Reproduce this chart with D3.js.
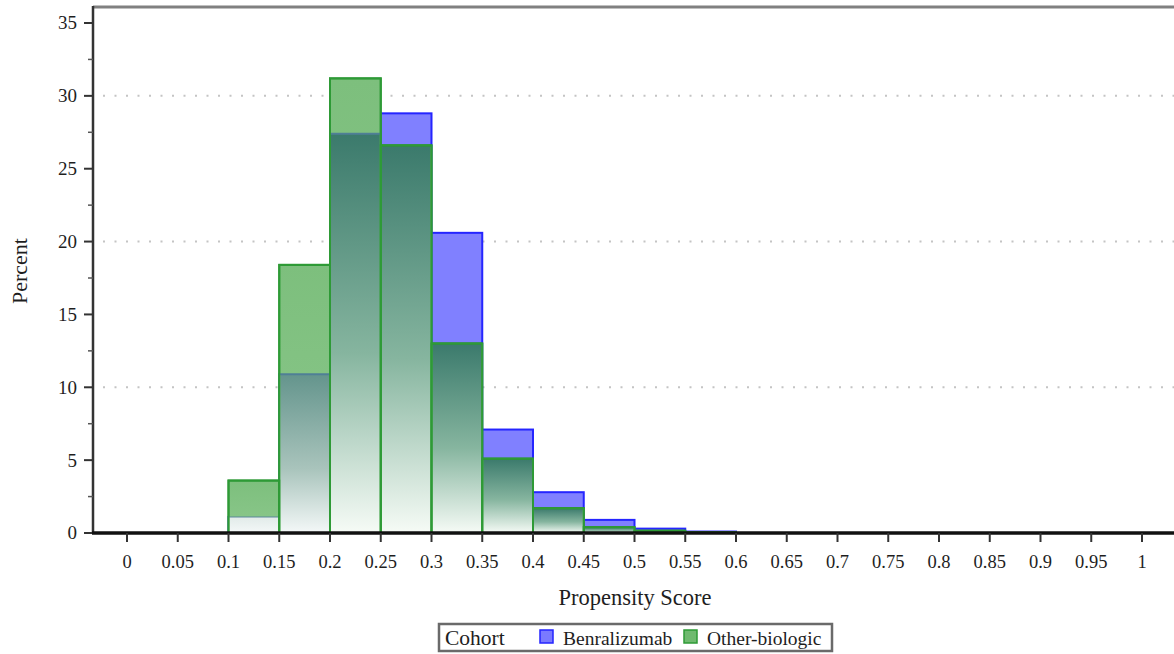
<!DOCTYPE html>
<html>
<head>
<meta charset="utf-8">
<script src="https://cdn.jsdelivr.net/npm/d3@7"></script>
<style>
  html, body { margin: 0; padding: 0; background: #fff; }
  svg { display: block; }
  text { font-family: "Liberation Serif", "Times New Roman", serif; fill: #1e1e1e; }
</style>
</head>
<body>
<svg id="chart" width="1174" height="654"></svg>
<script>
// Histogram bins (left edges), width 0.05
const binStarts = [0.10, 0.15, 0.20, 0.25, 0.30, 0.35, 0.40, 0.45, 0.50, 0.55];
const binWidth = 0.05;
// Percent of each cohort falling in each bin
const benralizumab = [1.1, 10.9, 27.4, 28.8, 20.6, 7.1, 2.8, 0.9, 0.3, 0.1];
const otherBiologic = [3.6, 18.4, 31.2, 26.6, 13.0, 5.1, 1.7, 0.4, 0.15, 0.05];
const xTicks = [0, 0.05, 0.1, 0.15, 0.2, 0.25, 0.3, 0.35, 0.4, 0.45, 0.5, 0.55, 0.6, 0.65, 0.7, 0.75, 0.8, 0.85, 0.9, 0.95, 1];
const yTicks = [0, 5, 10, 15, 20, 25, 30, 35];
const yMinorTicks = [2.5, 7.5, 12.5, 17.5, 22.5, 27.5, 32.5];
const gridValues = [10, 20, 30];
const cohorts = ["Benralizumab", "Other-biologic"];

const svg = d3.select("#chart");
const plotLeft = 93, plotTop = 7, plotBottom = 533, plotRight = 1200;

const x = d3.scaleLinear().domain([0, 1]).range([127, 1142]);
const y = d3.scaleLinear().domain([0, 35]).range([533, 23]);

const defs = svg.append("defs");
// Dense overlap shading
const gradG = defs.append("linearGradient")
  .attr("id", "overlapDense").attr("x1", 0).attr("y1", 0).attr("x2", 0).attr("y2", 1);
gradG.append("stop").attr("offset", "0%").attr("stop-color", "#3b7a6c");
gradG.append("stop").attr("offset", "55%").attr("stop-color", "#86b59f");
gradG.append("stop").attr("offset", "100%").attr("stop-color", "#f6fbf6");
// Light overlap shading where Benralizumab is well below Other-biologic
const gradB = defs.append("linearGradient")
  .attr("id", "overlapLight").attr("gradientUnits", "userSpaceOnUse")
  .attr("x1", 0).attr("y1", y(11)).attr("x2", 0).attr("y2", y(0));
gradB.append("stop").attr("offset", "0%").attr("stop-color", "#63948c");
gradB.append("stop").attr("offset", "60%").attr("stop-color", "#a9c4bc");
gradB.append("stop").attr("offset", "100%").attr("stop-color", "#f4f8f8");
// Green-only part
const gradTop = defs.append("linearGradient")
  .attr("id", "greenTop").attr("x1", 0).attr("y1", 0).attr("x2", 0).attr("y2", 1);
gradTop.append("stop").attr("offset", "0%").attr("stop-color", "#7dbf7d");
gradTop.append("stop").attr("offset", "100%").attr("stop-color", "#8cc88c");

defs.append("clipPath").attr("id", "plotClip")
  .append("rect").attr("x", plotLeft).attr("y", plotTop)
  .attr("width", plotRight - plotLeft).attr("height", plotBottom - plotTop);

// Dotted reference lines
svg.append("g").selectAll("line").data(gridValues).join("line")
  .attr("x1", plotLeft + 10).attr("x2", plotRight)
  .attr("y1", d => y(d)).attr("y2", d => y(d))
  .attr("stroke", "#c4c4c4").attr("stroke-width", 2)
  .attr("stroke-dasharray", "2,9.5");

const bins = binStarts.map((s, i) => ({
  x0: s, x1: s + binWidth, b: benralizumab[i], g: otherBiologic[i],
  lo: Math.min(benralizumab[i], otherBiologic[i]),
  light: benralizumab[i] / otherBiologic[i] < 0.75
}));

const bars = svg.append("g").attr("clip-path", "url(#plotClip)");

// Benralizumab bars
bars.append("g").selectAll("rect").data(bins).join("rect")
  .attr("x", d => x(d.x0)).attr("width", d => x(d.x1) - x(d.x0))
  .attr("y", d => y(d.b)).attr("height", d => y(0) - y(d.b))
  .attr("fill", "#8080ff").attr("stroke", "#2525ff").attr("stroke-width", 2);

// Other-biologic bars
bars.append("g").selectAll("rect").data(bins).join("rect")
  .attr("x", d => x(d.x0)).attr("width", d => x(d.x1) - x(d.x0))
  .attr("y", d => y(d.g)).attr("height", d => y(0) - y(d.g))
  .attr("fill", "url(#greenTop)").attr("stroke", "#2e9a36").attr("stroke-width", 2);

// Overlapping portion of both cohorts
bars.append("g").selectAll("rect").data(bins).join("rect")
  .attr("x", d => x(d.x0) + 1).attr("width", d => x(d.x1) - x(d.x0) - 2)
  .attr("y", d => y(d.lo)).attr("height", d => y(0) - y(d.lo))
  .attr("fill", d => d.light ? "url(#overlapLight)" : "url(#overlapDense)");

// Overlap top edge lines
bars.append("g").selectAll("line").data(bins).join("line")
  .attr("x1", d => x(d.x0)).attr("x2", d => x(d.x1))
  .attr("y1", d => y(d.lo)).attr("y2", d => y(d.lo))
  .attr("stroke", d => d.b < d.g ? "#4f7f96" : "#2e8a3e")
  .attr("stroke-opacity", d => d.b < d.g && d.b < 5 ? 0.45 : 1)
  .attr("stroke-width", 2);

// Re-stroke the bar sides in green
bars.append("g").selectAll("rect").data(bins).join("rect")
  .attr("x", d => x(d.x0)).attr("width", d => x(d.x1) - x(d.x0))
  .attr("y", d => y(d.g)).attr("height", d => y(0) - y(d.g))
  .attr("fill", "none").attr("stroke", "#2e9a36").attr("stroke-width", 2);

// Top frame
svg.append("line").attr("x1", plotLeft).attr("x2", plotRight)
  .attr("y1", plotTop).attr("y2", plotTop)
  .attr("stroke", "#808080").attr("stroke-width", 3);

// Y axis
const yAxis = svg.append("g").attr("transform", `translate(${plotLeft},0)`);
yAxis.append("line").attr("x1", 0).attr("x2", 0).attr("y1", plotTop - 1).attr("y2", plotBottom)
  .attr("stroke", "#333").attr("stroke-width", 2.5);
yAxis.selectAll(".maj").data(yTicks).join("line").attr("class", "maj")
  .attr("x1", -9).attr("x2", 0).attr("y1", d => y(d)).attr("y2", d => y(d))
  .attr("stroke", "#333").attr("stroke-width", 2);
yAxis.selectAll(".min").data(yMinorTicks).join("line").attr("class", "min")
  .attr("x1", -5).attr("x2", 0).attr("y1", d => y(d)).attr("y2", d => y(d))
  .attr("stroke", "#555").attr("stroke-width", 1.5);
yAxis.selectAll("text").data(yTicks).join("text")
  .attr("x", -16).attr("y", d => y(d)).attr("dy", "0.34em")
  .attr("text-anchor", "end").attr("font-size", 19).text(d => d);

// X axis
const xAxis = svg.append("g");
xAxis.append("line").attr("x1", plotLeft - 1).attr("x2", plotRight)
  .attr("y1", plotBottom).attr("y2", plotBottom)
  .attr("stroke", "#111").attr("stroke-width", 3.5);
xAxis.selectAll(".tk").data(xTicks).join("line").attr("class", "tk")
  .attr("x1", d => x(d)).attr("x2", d => x(d))
  .attr("y1", plotBottom).attr("y2", plotBottom + 9)
  .attr("stroke", "#333").attr("stroke-width", 2);
xAxis.selectAll("text").data(xTicks).join("text")
  .attr("x", d => x(d)).attr("y", 568)
  .attr("text-anchor", "middle").attr("font-size", 18.5).text(d => d);

// Axis titles
svg.append("text").attr("x", 635).attr("y", 605)
  .attr("text-anchor", "middle").attr("font-size", 22.5).text("Propensity Score");
svg.append("text").attr("transform", "translate(27,271) rotate(-90)")
  .attr("text-anchor", "middle").attr("font-size", 22).text("Percent");

// Legend
const legend = svg.append("g");
legend.append("rect").attr("x", 439).attr("y", 624).attr("width", 393).attr("height", 27)
  .attr("fill", "#fff").attr("stroke", "#6a6a6a").attr("stroke-width", 2.5);
legend.append("text").attr("x", 445).attr("y", 645).attr("font-size", 21.5).text("Cohort");
const swatchColors = ["#7a7aff", "#6fba6f"];
const swatchStroke = ["#2525ff", "#2e9a36"];
const itemX = [540, 684];
cohorts.forEach((c, i) => {
  legend.append("rect").attr("x", itemX[i]).attr("y", 630).attr("width", 13).attr("height", 13)
    .attr("fill", swatchColors[i]).attr("stroke", swatchStroke[i]).attr("stroke-width", 1.5);
  legend.append("text").attr("x", itemX[i] + 23).attr("y", 645).attr("font-size", 19.5).text(c);
});
</script>
</body>
</html>
